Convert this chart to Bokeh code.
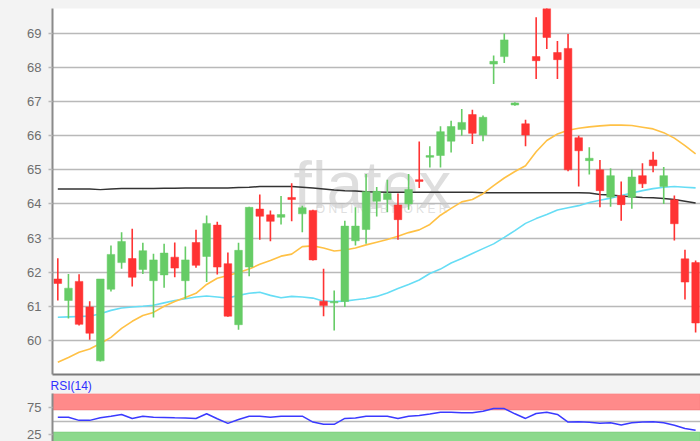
from bokeh.plotting import figure
from bokeh.layouts import column
from bokeh.models import ColumnDataSource, FixedTicker, BoxAnnotation, Label, Range1d
from bokeh.embed import file_html
from bokeh.resources import INLINE
from jinja2 import Template

# ---- data ----
opens  = [61.80, 61.17, 61.73, 60.98, 59.40, 61.50, 62.28, 62.40, 62.08, 61.75,
          61.92, 62.44, 61.75, 62.87, 62.46, 63.38, 62.25, 60.46, 62.15, 63.85,
          63.68, 63.61, 64.19, 63.71, 63.81, 61.15, 61.10, 61.14, 62.92, 63.25,
          64.08, 64.13, 63.97, 64.00, 64.71, 65.37, 65.42, 65.84, 66.18, 66.62,
          66.02, 68.10, 68.32, 66.90, 66.35, 68.32, 70.20, 68.44, 68.56, 65.94,
          65.27, 65.00, 64.20, 64.25, 64.20, 64.83, 65.29, 64.51, 64.12, 62.39,
          62.28]
highs  = [62.41, 61.95, 61.94, 61.15, 61.80, 62.78, 63.17, 63.27, 62.86, 62.54,
          62.83, 62.87, 62.75, 63.24, 63.66, 63.48, 62.58, 62.86, 63.92, 64.28,
          63.81, 64.23, 64.61, 63.95, 63.83, 62.10, 61.46, 63.51, 63.90, 64.88,
          64.50, 64.71, 64.31, 64.88, 65.83, 65.69, 66.28, 66.44, 66.78, 66.76,
          66.59, 68.35, 69.00, 66.98, 66.47, 69.47, 70.40, 68.78, 68.98, 66.00,
          65.66, 65.29, 65.05, 64.66, 65.00, 65.19, 65.53, 65.08, 64.25, 62.66,
          62.34]
lows   = [61.17, 60.64, 60.44, 60.02, 59.38, 61.43, 62.10, 61.58, 61.95, 60.67,
          61.54, 61.85, 61.22, 62.13, 61.71, 61.93, 60.69, 60.31, 61.88, 62.95,
          62.91, 63.40, 63.49, 63.17, 62.34, 60.71, 60.29, 60.98, 62.78, 62.83,
          63.63, 63.76, 62.95, 63.83, 64.47, 65.07, 65.07, 65.51, 66.00, 65.76,
          65.84, 67.52, 68.13, 66.88, 65.69, 67.66, 68.54, 67.66, 64.96, 64.51,
          64.86, 63.90, 63.92, 63.51, 63.86, 64.47, 64.93, 64.00, 62.93, 61.20,
          60.23]
closes = [61.67, 61.53, 60.47, 60.21, 61.80, 62.52, 62.90, 61.85, 62.63, 62.36,
          62.56, 62.12, 62.36, 62.20, 63.43, 62.15, 60.71, 62.64, 63.90, 63.64,
          63.49, 63.69, 64.13, 63.89, 62.36, 61.02, 61.14, 63.35, 63.35, 64.36,
          64.37, 64.31, 63.54, 64.42, 64.66, 65.42, 66.12, 66.27, 66.39, 66.07,
          66.54, 68.18, 68.81, 66.96, 66.02, 68.20, 68.88, 68.23, 65.00, 65.56,
          65.34, 64.39, 64.83, 63.98, 64.79, 64.59, 65.12, 64.83, 63.42, 61.71,
          60.51]

ma_orange = [59.36, 59.50, 59.65, 59.75, 59.91, 60.09, 60.35, 60.56, 60.73, 60.82,
             61.00, 61.14, 61.26, 61.38, 61.64, 61.82, 61.90, 61.99, 62.09, 62.23,
             62.34, 62.47, 62.53, 62.75, 62.77, 62.71, 62.62, 62.65, 62.71, 62.80,
             62.88, 62.96, 63.05, 63.16, 63.24, 63.40, 63.67, 63.87, 64.06, 64.13,
             64.30, 64.54, 64.76, 64.95, 65.12, 65.53, 65.86, 66.05, 66.16, 66.22,
             66.26, 66.29, 66.31, 66.31, 66.30, 66.25, 66.20, 66.09, 65.93, 65.71,
             65.47]
ma_cyan   = [60.68, 60.69, 60.70, 60.71, 60.78, 60.88, 60.95, 60.98, 61.00, 61.03,
             61.10, 61.17, 61.22, 61.27, 61.30, 61.27, 61.24, 61.32, 61.38, 61.41,
             61.32, 61.25, 61.29, 61.27, 61.24, 61.15, 61.14, 61.15, 61.19, 61.23,
             61.29, 61.39, 61.52, 61.64, 61.77, 61.96, 62.09, 62.27, 62.40, 62.55,
             62.69, 62.83, 63.02, 63.22, 63.43, 63.57, 63.69, 63.82, 63.89, 63.95,
             64.04, 64.11, 64.17, 64.25, 64.32, 64.39, 64.45, 64.49, 64.51, 64.49,
             64.47]
ma_black  = [64.44, 64.44, 64.44, 64.44, 64.42, 64.44, 64.45, 64.45, 64.45, 64.45,
             64.46, 64.46, 64.47, 64.47, 64.47, 64.47, 64.47, 64.48, 64.49, 64.51,
             64.51, 64.51, 64.51, 64.49, 64.47, 64.44, 64.41, 64.39, 64.38, 64.36,
             64.35, 64.34, 64.34, 64.34, 64.34, 64.34, 64.34, 64.34, 64.34, 64.34,
             64.33, 64.33, 64.33, 64.33, 64.33, 64.33, 64.33, 64.33, 64.33, 64.33,
             64.32, 64.28, 64.26, 64.23, 64.21, 64.19, 64.18, 64.16, 64.13, 64.08,
             64.03]
rsi = [57.1, 57.1, 51.3, 51.3, 56.1, 58.9, 62.0, 54.8, 58.9, 57.1,
       56.6, 56.1, 55.7, 54.8, 63.2, 54.3, 45.9, 53.0, 58.9, 58.9,
       57.1, 58.9, 58.9, 58.9, 48.2, 44.1, 44.1, 54.8, 55.7, 58.9,
       58.9, 58.9, 54.8, 58.9, 60.2, 62.9, 66.1, 66.1, 65.0, 65.0,
       67.9, 72.7, 72.7, 63.2, 54.8, 63.8, 66.1, 62.0, 48.2, 48.6,
       47.7, 45.9, 47.1, 42.9, 47.1, 48.2, 48.9, 47.1, 42.3, 36.4,
       33.4]

price_ticks = [60, 61, 62, 63, 64, 65, 66, 67, 68, 69, 70]
rsi_ticks = [25, 75]
rsi_grid = [25, 50, 75]
rsi_upper = [70, 100]
rsi_lower = [0, 30]

BG = "#f3f3f3"
RED = "#ff3333"
GREEN = "#66cc66"
FONT = "Liberation Sans"

n = len(opens)
idx = list(range(n))
up = [c >= o for o, c in zip(opens, closes)]
src = ColumnDataSource(dict(
    x=idx, o=opens, h=highs, l=lows, c=closes,
    top=[max(o, c) for o, c in zip(opens, closes)],
    bot=[min(o, c) for o, c in zip(opens, closes)],
    col=[GREEN if u else RED for u in up],
    mo=ma_orange, mc=ma_cyan, mb=ma_black, rsi=rsi,
))

xr = Range1d(-0.5, 60.46)

p = figure(width=692, height=368, x_range=xr, y_range=Range1d(59.0, 69.73),
           output_backend="svg", toolbar_location=None,
           min_border_left=44, min_border_right=0, min_border_top=0, min_border_bottom=2,
           background_fill_color="white", border_fill_color=BG)
p.outline_line_color = None
p.xgrid.visible = False
p.ygrid.grid_line_color = "#b9b9b9"
p.ygrid.grid_line_width = 1.6
p.yaxis.ticker = FixedTicker(ticks=price_ticks)
p.yaxis.axis_line_color = "#8a8a8a"
p.yaxis.axis_line_width = 2
p.yaxis.major_tick_line_color = "#b9b9b9"
p.yaxis.major_tick_line_width = 1.6
p.yaxis.major_tick_out = 4
p.yaxis.major_tick_in = 0
p.yaxis.minor_tick_line_color = None
p.yaxis.major_label_text_font = FONT
p.yaxis.major_label_text_font_size = "13px"
p.yaxis.major_label_text_color = "#6e6e6e"
p.yaxis.major_label_standoff = 7
p.xaxis.ticker = FixedTicker(ticks=[])
p.xaxis.axis_line_color = "#7a7a7a"
p.xaxis.axis_line_width = 2
p.xaxis.major_tick_line_color = None
p.xaxis.minor_tick_line_color = None
p.xaxis.major_label_text_font_size = "0px"
p.xaxis.major_label_standoff = 0

# watermark
p.add_layout(Label(x=29.6, y=64.55, text="flatex", text_align="center",
                   text_baseline="alphabetic", text_font=FONT, text_font_size="66px",
                   text_color="#c8c8c8", text_alpha=0.6, level="underlay"))
p.add_layout(Label(x=30.8, y=63.85, text="O N L I N E   B R O K E R", text_align="center",
                   text_baseline="middle", text_font=FONT, text_font_size="12px",
                   text_color="#d2d2d2", text_alpha=0.7, level="underlay"))

p.line("x", "mb", source=src, line_color="#333333", line_width=1.5)
p.line("x", "mc", source=src, line_color="#66ddf5", line_width=1.6)
p.line("x", "mo", source=src, line_color="#ffc145", line_width=1.6)
p.segment("x", "h", "x", "l", source=src, line_color="col", line_width=1.6)
p.vbar(x="x", top="top", bottom="bot", width=0.72, source=src,
       fill_color="col", line_color="col", line_width=0.5)

# RSI panel
q = figure(width=692, height=65, x_range=xr, y_range=Range1d(13.0, 100),
           output_backend="svg", toolbar_location=None, title="RSI(14)",
           min_border_left=44, min_border_right=0, min_border_top=12, min_border_bottom=0,
           background_fill_color="white", border_fill_color=BG)
q.title.text_font = FONT
q.title.text_font_size = "12px"
q.title.text_font_style = "normal"
q.title.text_color = "#3030ff"
q.title.align = "left"
q.title.offset = -2
q.title.standoff = 1
q.outline_line_color = None
q.xaxis.visible = False
q.xgrid.visible = False
q.ygrid.ticker = FixedTicker(ticks=rsi_grid)
q.ygrid.grid_line_color = "#b9b9b9"
q.ygrid.grid_line_width = 1.6
q.yaxis.ticker = FixedTicker(ticks=rsi_ticks)
q.yaxis.axis_line_color = "#8a8a8a"
q.yaxis.axis_line_width = 2
q.yaxis.major_tick_line_color = "#b9b9b9"
q.yaxis.major_tick_line_width = 1.6
q.yaxis.major_tick_out = 4
q.yaxis.major_tick_in = 0
q.yaxis.minor_tick_line_color = None
q.yaxis.major_label_text_font = FONT
q.yaxis.major_label_text_font_size = "13px"
q.yaxis.major_label_text_color = "#6e6e6e"
q.yaxis.major_label_standoff = 7
q.add_layout(BoxAnnotation(bottom=rsi_upper[0], top=rsi_upper[1], fill_color="#ff8a8a",
                           fill_alpha=1, line_color="#e86a6a", line_width=1.5, level="underlay"))
q.add_layout(BoxAnnotation(bottom=rsi_lower[0], top=rsi_lower[1], fill_color="#8cd98c",
                           fill_alpha=1, line_color="#6cc46c", line_width=1.5, level="underlay"))
q.line("x", "rsi", source=src, line_color="#3a3aff", line_width=1.5)

layout = column(p, q, spacing=0, width=692, height=433, sizing_mode="fixed")

template = Template("""<!DOCTYPE html>
<html lang="en">
<head>
<meta charset="utf-8">
<title>{{ title }}</title>
<style>html { overflow: hidden; } body { margin: 8px; background: #f3f3f3; min-width: 692px; }</style>
{{ bokeh_css }}
{{ bokeh_js }}
</head>
<body>
{{ plot_div }}
{{ plot_script }}
</body>
</html>""")

open("out.html", "w").write(file_html(layout, INLINE, "chart", template=template))
